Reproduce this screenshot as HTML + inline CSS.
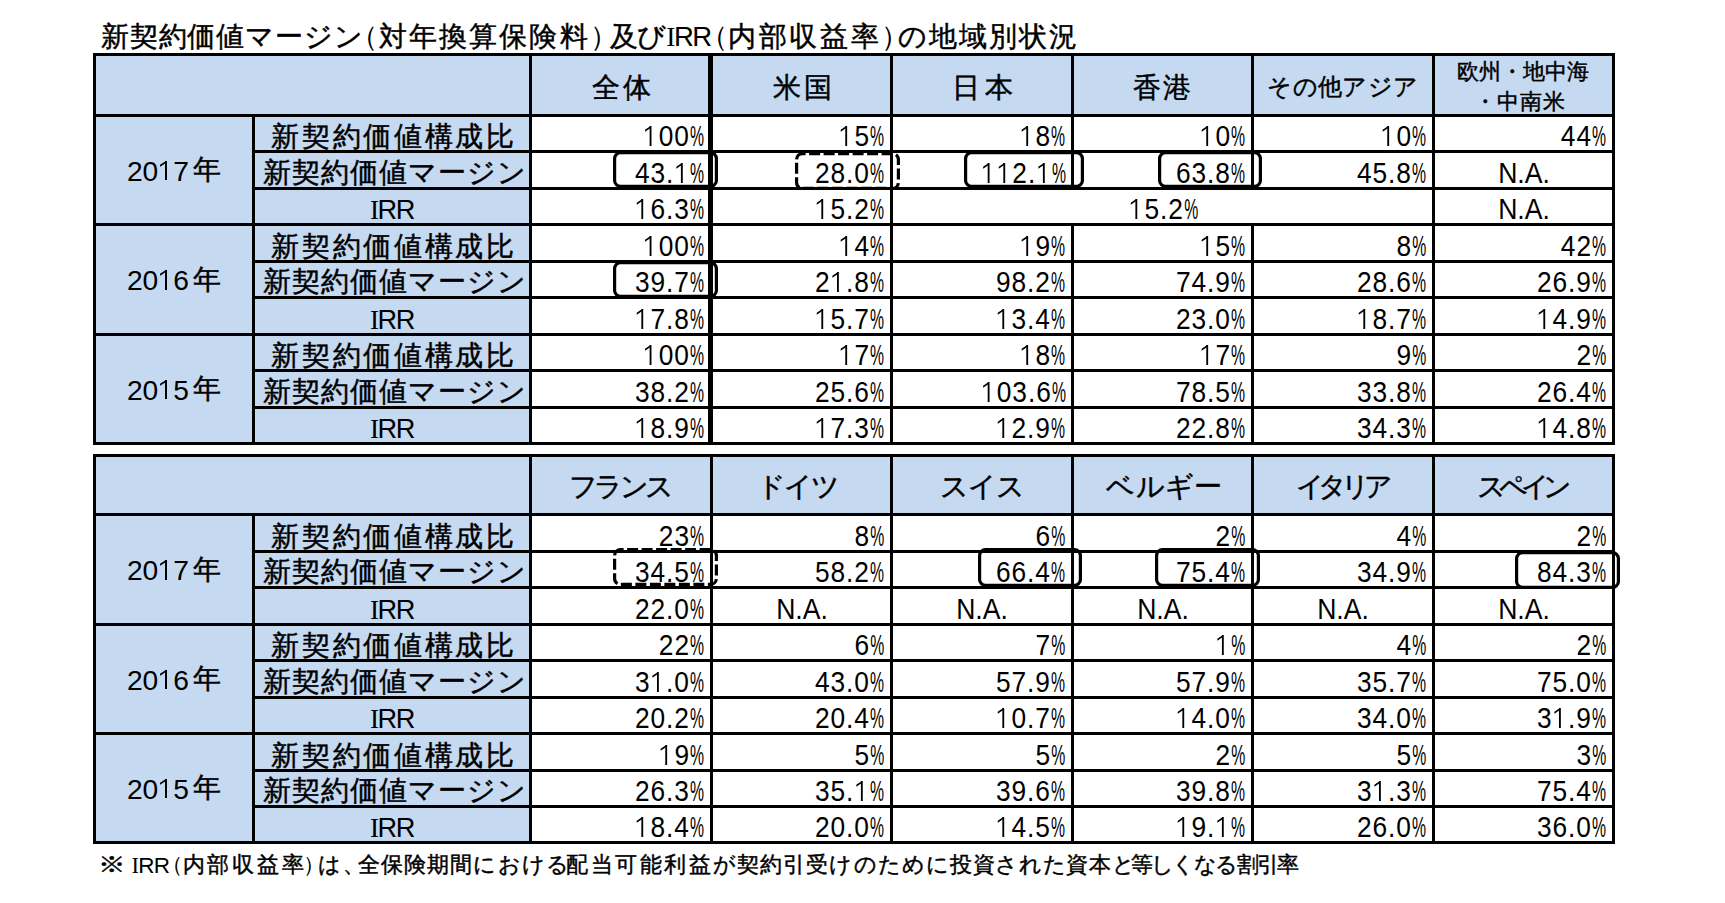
<!DOCTYPE html>
<html lang="ja"><head><meta charset="utf-8"><title>新契約価値マージン（対年換算保険料）及びIRR（内部収益率）の地域別状況</title>
<style>
html,body{margin:0;padding:0;background:#fff}
body{width:1725px;height:903px;position:relative;overflow:hidden;font-family:"Liberation Sans",sans-serif;color:#000}
.r,.rr,.n,.na,.g{position:absolute;line-height:0;white-space:nowrap}
.g{transform-origin:0 0}
.o{position:relative;color:transparent;font-style:normal}
.o::before{content:'';position:absolute;left:0.241em;top:0.222em;width:0.08em;height:0.683em;background:#000}
.o::after{content:'';position:absolute;left:0.07em;top:0.222em;width:0.214em;height:0.075em;background:#000;transform-origin:100% 0;transform:skewY(-32deg)}
.k,.yk{-webkit-text-stroke:0.45px #000}
.s{font-family:"Liberation Serif",serif}
.yk{font-size:0.99em;position:relative;top:-1.5px;margin-left:4px}
.n{font-size:28.6px;letter-spacing:1.0px;transform:scaleX(0.92);transform-origin:100% 0}
.n.c{width:600px;text-align:center;transform-origin:50% 0}
.p{display:inline-block;margin-right:-1.0px;width:0.533em;transform:scaleX(0.6);transform-origin:0 0}
.na{width:600px;text-align:center;font-size:28.6px;transform:scaleX(0.93)}
</style></head><body>
<div class="r" style="left:93px;top:53px;width:1522px;height:64px;background:#c5d9f1"></div>
<div class="r" style="left:93px;top:114px;width:439px;height:328px;background:#c5d9f1"></div>
<div class="n" style="right:1021.70px;top:136.09px"><i class="o">1</i>00<span class="p">%</span></div>
<div class="n" style="right:841.70px;top:136.09px"><i class="o">1</i>5<span class="p">%</span></div>
<div class="n" style="right:660.70px;top:136.09px"><i class="o">1</i>8<span class="p">%</span></div>
<div class="n" style="right:480.70px;top:136.09px"><i class="o">1</i>0<span class="p">%</span></div>
<div class="n" style="right:299.70px;top:136.09px"><i class="o">1</i>0<span class="p">%</span></div>
<div class="n" style="right:119.70px;top:136.09px">44<span class="p">%</span></div>
<div class="n" style="right:1021.70px;top:173.09px">43.<i class="o">1</i><span class="p">%</span></div>
<div class="n" style="right:841.70px;top:173.09px">28.0<span class="p">%</span></div>
<div class="n" style="right:660.70px;top:173.09px"><i class="o">1</i><i class="o">1</i>2.<i class="o">1</i><span class="p">%</span></div>
<div class="n" style="right:480.70px;top:173.09px">63.8<span class="p">%</span></div>
<div class="n" style="right:299.70px;top:173.09px">45.8<span class="p">%</span></div>
<div class="na" style="left:1223.50px;top:173.09px">N.A.</div>
<div class="n" style="right:1021.70px;top:209.09px"><i class="o">1</i>6.3<span class="p">%</span></div>
<div class="n" style="right:841.70px;top:209.09px"><i class="o">1</i>5.2<span class="p">%</span></div>
<div class="n c" style="left:862.50px;top:209.09px"><i class="o">1</i>5.2<span class="p">%</span></div>
<div class="na" style="left:1223.50px;top:209.09px">N.A.</div>
<div class="n" style="right:1021.70px;top:246.09px"><i class="o">1</i>00<span class="p">%</span></div>
<div class="n" style="right:841.70px;top:246.09px"><i class="o">1</i>4<span class="p">%</span></div>
<div class="n" style="right:660.70px;top:246.09px"><i class="o">1</i>9<span class="p">%</span></div>
<div class="n" style="right:480.70px;top:246.09px"><i class="o">1</i>5<span class="p">%</span></div>
<div class="n" style="right:299.70px;top:246.09px">8<span class="p">%</span></div>
<div class="n" style="right:119.70px;top:246.09px">42<span class="p">%</span></div>
<div class="n" style="right:1021.70px;top:282.09px">39.7<span class="p">%</span></div>
<div class="n" style="right:841.70px;top:282.09px">2<i class="o">1</i>.8<span class="p">%</span></div>
<div class="n" style="right:660.70px;top:282.09px">98.2<span class="p">%</span></div>
<div class="n" style="right:480.70px;top:282.09px">74.9<span class="p">%</span></div>
<div class="n" style="right:299.70px;top:282.09px">28.6<span class="p">%</span></div>
<div class="n" style="right:119.70px;top:282.09px">26.9<span class="p">%</span></div>
<div class="n" style="right:1021.70px;top:319.09px"><i class="o">1</i>7.8<span class="p">%</span></div>
<div class="n" style="right:841.70px;top:319.09px"><i class="o">1</i>5.7<span class="p">%</span></div>
<div class="n" style="right:660.70px;top:319.09px"><i class="o">1</i>3.4<span class="p">%</span></div>
<div class="n" style="right:480.70px;top:319.09px">23.0<span class="p">%</span></div>
<div class="n" style="right:299.70px;top:319.09px"><i class="o">1</i>8.7<span class="p">%</span></div>
<div class="n" style="right:119.70px;top:319.09px"><i class="o">1</i>4.9<span class="p">%</span></div>
<div class="n" style="right:1021.70px;top:355.09px"><i class="o">1</i>00<span class="p">%</span></div>
<div class="n" style="right:841.70px;top:355.09px"><i class="o">1</i>7<span class="p">%</span></div>
<div class="n" style="right:660.70px;top:355.09px"><i class="o">1</i>8<span class="p">%</span></div>
<div class="n" style="right:480.70px;top:355.09px"><i class="o">1</i>7<span class="p">%</span></div>
<div class="n" style="right:299.70px;top:355.09px">9<span class="p">%</span></div>
<div class="n" style="right:119.70px;top:355.09px">2<span class="p">%</span></div>
<div class="n" style="right:1021.70px;top:392.09px">38.2<span class="p">%</span></div>
<div class="n" style="right:841.70px;top:392.09px">25.6<span class="p">%</span></div>
<div class="n" style="right:660.70px;top:392.09px"><i class="o">1</i>03.6<span class="p">%</span></div>
<div class="n" style="right:480.70px;top:392.09px">78.5<span class="p">%</span></div>
<div class="n" style="right:299.70px;top:392.09px">33.8<span class="p">%</span></div>
<div class="n" style="right:119.70px;top:392.09px">26.4<span class="p">%</span></div>
<div class="n" style="right:1021.70px;top:428.09px"><i class="o">1</i>8.9<span class="p">%</span></div>
<div class="n" style="right:841.70px;top:428.09px"><i class="o">1</i>7.3<span class="p">%</span></div>
<div class="n" style="right:660.70px;top:428.09px"><i class="o">1</i>2.9<span class="p">%</span></div>
<div class="n" style="right:480.70px;top:428.09px">22.8<span class="p">%</span></div>
<div class="n" style="right:299.70px;top:428.09px">34.3<span class="p">%</span></div>
<div class="n" style="right:119.70px;top:428.09px"><i class="o">1</i>4.8<span class="p">%</span></div>
<div class="r" style="left:93px;top:53px;width:1522px;height:3px;background:#000"></div>
<div class="r" style="left:93px;top:114px;width:1522px;height:3px;background:#000"></div>
<div class="r" style="left:252px;top:150px;width:1363px;height:3px;background:#000"></div>
<div class="r" style="left:252px;top:187px;width:1363px;height:3px;background:#000"></div>
<div class="r" style="left:93px;top:223px;width:1522px;height:3px;background:#000"></div>
<div class="r" style="left:252px;top:260px;width:1363px;height:3px;background:#000"></div>
<div class="r" style="left:252px;top:296px;width:1363px;height:3px;background:#000"></div>
<div class="r" style="left:93px;top:333px;width:1522px;height:3px;background:#000"></div>
<div class="r" style="left:252px;top:369px;width:1363px;height:3px;background:#000"></div>
<div class="r" style="left:252px;top:406px;width:1363px;height:3px;background:#000"></div>
<div class="r" style="left:93px;top:442px;width:1522px;height:3px;background:#000"></div>
<div class="r" style="left:93px;top:53px;width:3px;height:392px;background:#000"></div>
<div class="r" style="left:252px;top:114px;width:3px;height:331px;background:#000"></div>
<div class="r" style="left:529px;top:53px;width:3px;height:392px;background:#000"></div>
<div class="r" style="left:710px;top:53px;width:3px;height:392px;background:#000"></div>
<div class="r" style="left:890px;top:53px;width:3px;height:392px;background:#000"></div>
<div class="r" style="left:1071px;top:53px;width:3px;height:134px;background:#000"></div>
<div class="r" style="left:1071px;top:223px;width:3px;height:222px;background:#000"></div>
<div class="r" style="left:1251px;top:53px;width:3px;height:134px;background:#000"></div>
<div class="r" style="left:1251px;top:223px;width:3px;height:222px;background:#000"></div>
<div class="r" style="left:1432px;top:53px;width:3px;height:392px;background:#000"></div>
<div class="r" style="left:1612px;top:53px;width:3px;height:392px;background:#000"></div>
<div class="r" style="left:708px;top:53px;width:2px;height:392px;background:#000"></div>
<div class="r" style="left:93px;top:454px;width:1522px;height:62px;background:#c5d9f1"></div>
<div class="r" style="left:93px;top:513px;width:439px;height:328px;background:#c5d9f1"></div>
<div class="n" style="right:1021.70px;top:536.09px">23<span class="p">%</span></div>
<div class="n" style="right:841.70px;top:536.09px">8<span class="p">%</span></div>
<div class="n" style="right:660.70px;top:536.09px">6<span class="p">%</span></div>
<div class="n" style="right:480.70px;top:536.09px">2<span class="p">%</span></div>
<div class="n" style="right:299.70px;top:536.09px">4<span class="p">%</span></div>
<div class="n" style="right:119.70px;top:536.09px">2<span class="p">%</span></div>
<div class="n" style="right:1021.70px;top:572.09px">34.5<span class="p">%</span></div>
<div class="n" style="right:841.70px;top:572.09px">58.2<span class="p">%</span></div>
<div class="n" style="right:660.70px;top:572.09px">66.4<span class="p">%</span></div>
<div class="n" style="right:480.70px;top:572.09px">75.4<span class="p">%</span></div>
<div class="n" style="right:299.70px;top:572.09px">34.9<span class="p">%</span></div>
<div class="n" style="right:119.70px;top:572.09px">84.3<span class="p">%</span></div>
<div class="n" style="right:1021.70px;top:609.09px">22.0<span class="p">%</span></div>
<div class="na" style="left:501.50px;top:609.09px">N.A.</div>
<div class="na" style="left:682.00px;top:609.09px">N.A.</div>
<div class="na" style="left:862.50px;top:609.09px">N.A.</div>
<div class="na" style="left:1043.00px;top:609.09px">N.A.</div>
<div class="na" style="left:1223.50px;top:609.09px">N.A.</div>
<div class="n" style="right:1021.70px;top:645.09px">22<span class="p">%</span></div>
<div class="n" style="right:841.70px;top:645.09px">6<span class="p">%</span></div>
<div class="n" style="right:660.70px;top:645.09px">7<span class="p">%</span></div>
<div class="n" style="right:480.70px;top:645.09px"><i class="o">1</i><span class="p">%</span></div>
<div class="n" style="right:299.70px;top:645.09px">4<span class="p">%</span></div>
<div class="n" style="right:119.70px;top:645.09px">2<span class="p">%</span></div>
<div class="n" style="right:1021.70px;top:682.09px">3<i class="o">1</i>.0<span class="p">%</span></div>
<div class="n" style="right:841.70px;top:682.09px">43.0<span class="p">%</span></div>
<div class="n" style="right:660.70px;top:682.09px">57.9<span class="p">%</span></div>
<div class="n" style="right:480.70px;top:682.09px">57.9<span class="p">%</span></div>
<div class="n" style="right:299.70px;top:682.09px">35.7<span class="p">%</span></div>
<div class="n" style="right:119.70px;top:682.09px">75.0<span class="p">%</span></div>
<div class="n" style="right:1021.70px;top:718.09px">20.2<span class="p">%</span></div>
<div class="n" style="right:841.70px;top:718.09px">20.4<span class="p">%</span></div>
<div class="n" style="right:660.70px;top:718.09px"><i class="o">1</i>0.7<span class="p">%</span></div>
<div class="n" style="right:480.70px;top:718.09px"><i class="o">1</i>4.0<span class="p">%</span></div>
<div class="n" style="right:299.70px;top:718.09px">34.0<span class="p">%</span></div>
<div class="n" style="right:119.70px;top:718.09px">3<i class="o">1</i>.9<span class="p">%</span></div>
<div class="n" style="right:1021.70px;top:755.09px"><i class="o">1</i>9<span class="p">%</span></div>
<div class="n" style="right:841.70px;top:755.09px">5<span class="p">%</span></div>
<div class="n" style="right:660.70px;top:755.09px">5<span class="p">%</span></div>
<div class="n" style="right:480.70px;top:755.09px">2<span class="p">%</span></div>
<div class="n" style="right:299.70px;top:755.09px">5<span class="p">%</span></div>
<div class="n" style="right:119.70px;top:755.09px">3<span class="p">%</span></div>
<div class="n" style="right:1021.70px;top:791.09px">26.3<span class="p">%</span></div>
<div class="n" style="right:841.70px;top:791.09px">35.<i class="o">1</i><span class="p">%</span></div>
<div class="n" style="right:660.70px;top:791.09px">39.6<span class="p">%</span></div>
<div class="n" style="right:480.70px;top:791.09px">39.8<span class="p">%</span></div>
<div class="n" style="right:299.70px;top:791.09px">3<i class="o">1</i>.3<span class="p">%</span></div>
<div class="n" style="right:119.70px;top:791.09px">75.4<span class="p">%</span></div>
<div class="n" style="right:1021.70px;top:827.09px"><i class="o">1</i>8.4<span class="p">%</span></div>
<div class="n" style="right:841.70px;top:827.09px">20.0<span class="p">%</span></div>
<div class="n" style="right:660.70px;top:827.09px"><i class="o">1</i>4.5<span class="p">%</span></div>
<div class="n" style="right:480.70px;top:827.09px"><i class="o">1</i>9.<i class="o">1</i><span class="p">%</span></div>
<div class="n" style="right:299.70px;top:827.09px">26.0<span class="p">%</span></div>
<div class="n" style="right:119.70px;top:827.09px">36.0<span class="p">%</span></div>
<div class="r" style="left:93px;top:454px;width:1522px;height:3px;background:#000"></div>
<div class="r" style="left:93px;top:513px;width:1522px;height:3px;background:#000"></div>
<div class="r" style="left:252px;top:550px;width:1363px;height:3px;background:#000"></div>
<div class="r" style="left:252px;top:586px;width:1363px;height:3px;background:#000"></div>
<div class="r" style="left:93px;top:623px;width:1522px;height:3px;background:#000"></div>
<div class="r" style="left:252px;top:659px;width:1363px;height:3px;background:#000"></div>
<div class="r" style="left:252px;top:696px;width:1363px;height:3px;background:#000"></div>
<div class="r" style="left:93px;top:732px;width:1522px;height:3px;background:#000"></div>
<div class="r" style="left:252px;top:769px;width:1363px;height:3px;background:#000"></div>
<div class="r" style="left:252px;top:805px;width:1363px;height:3px;background:#000"></div>
<div class="r" style="left:93px;top:841px;width:1522px;height:3px;background:#000"></div>
<div class="r" style="left:93px;top:454px;width:3px;height:390px;background:#000"></div>
<div class="r" style="left:252px;top:513px;width:3px;height:331px;background:#000"></div>
<div class="r" style="left:529px;top:454px;width:3px;height:390px;background:#000"></div>
<div class="r" style="left:710px;top:454px;width:3px;height:390px;background:#000"></div>
<div class="r" style="left:890px;top:454px;width:3px;height:390px;background:#000"></div>
<div class="r" style="left:1071px;top:454px;width:3px;height:390px;background:#000"></div>
<div class="r" style="left:1251px;top:454px;width:3px;height:390px;background:#000"></div>
<div class="r" style="left:1432px;top:454px;width:3px;height:390px;background:#000"></div>
<div class="r" style="left:1612px;top:454px;width:3px;height:390px;background:#000"></div>
<div class="g k" style="left:100.90px;top:36.72px;font-size:27.6px;letter-spacing:0.84px">新契約価値マージン</div>
<div class="g" style="left:349.85px;top:36.72px;font-size:27.6px;transform:scaleX(1.000)">（</div>
<div class="g k" style="left:379.40px;top:36.72px;font-size:27.6px;letter-spacing:2.02px">対年換算保険料</div>
<div class="g" style="left:589.70px;top:36.72px;font-size:27.6px;transform:scaleX(1.000)">）</div>
<div class="g k" style="left:609.70px;top:36.72px;font-size:27.6px;letter-spacing:-0.80px">及び</div>
<div class="g" style="left:666.20px;top:36.97px;font-size:27.5px;letter-spacing:-1.45px"><span class="s">I</span>RR</div>
<div class="g" style="left:700.00px;top:36.72px;font-size:27.6px;transform:scaleX(1.000)">（</div>
<div class="g k" style="left:728.30px;top:36.72px;font-size:27.6px;letter-spacing:2.60px">内部収益率</div>
<div class="g" style="left:880.85px;top:36.72px;font-size:27.6px;transform:scaleX(1.000)">）</div>
<div class="g k" style="left:898.00px;top:36.72px;font-size:27.6px;letter-spacing:2.00px">の地域別状況</div>
<div class="g k" style="left:592.00px;top:87.25px;font-size:28.4px;letter-spacing:3.00px">全体</div>
<div class="g k" style="left:773.00px;top:87.25px;font-size:28.4px;letter-spacing:2.60px">米国</div>
<div class="g k" style="left:952.40px;top:87.25px;font-size:28.4px;letter-spacing:4.30px">日本</div>
<div class="g k" style="left:1133.00px;top:87.25px;font-size:28.4px;letter-spacing:2.40px">香港</div>
<div class="g k" style="left:1267.40px;top:86.62px;font-size:24.4px;letter-spacing:0.36px">その他アジア</div>
<div class="g k" style="left:1457.00px;top:72.38px;font-size:21.9px;letter-spacing:0.06px">欧州・地中海</div>
<div class="g k" style="left:1474.40px;top:102.38px;font-size:21.9px;letter-spacing:0.93px">・中南米</div>
<div class="g k" style="left:568.80px;top:486.25px;font-size:28.4px;letter-spacing:-3.50px">フランス</div>
<div class="g k" style="left:756.50px;top:486.25px;font-size:28.4px;letter-spacing:-1.90px">ドイツ</div>
<div class="g k" style="left:940.00px;top:486.25px;font-size:28.4px;letter-spacing:-1.20px">スイス</div>
<div class="g k" style="left:1106.40px;top:486.25px;font-size:28.4px;letter-spacing:0.33px">ベルギー</div>
<div class="g k" style="left:1295.60px;top:486.25px;font-size:28.4px;letter-spacing:-6.13px">イタリア</div>
<div class="g k" style="left:1476.80px;top:486.25px;font-size:28.4px;letter-spacing:-7.00px">スペイン</div>
<div class="g k" style="left:271.40px;top:136.64px;font-size:28.0px;letter-spacing:2.66px">新契約価値構成比</div>
<div class="g k" style="left:263.00px;top:172.64px;font-size:28.0px;letter-spacing:1.00px">新契約価値マージン</div>
<div class="g" style="left:370.00px;top:209.58px;font-size:27.2px;letter-spacing:-1.50px"><span class="s">I</span>RR</div>
<div class="g k" style="left:271.40px;top:246.64px;font-size:28.0px;letter-spacing:2.66px">新契約価値構成比</div>
<div class="g k" style="left:263.00px;top:281.64px;font-size:28.0px;letter-spacing:1.00px">新契約価値マージン</div>
<div class="g" style="left:370.00px;top:319.58px;font-size:27.2px;letter-spacing:-1.50px"><span class="s">I</span>RR</div>
<div class="g k" style="left:271.40px;top:355.64px;font-size:28.0px;letter-spacing:2.66px">新契約価値構成比</div>
<div class="g k" style="left:263.00px;top:391.64px;font-size:28.0px;letter-spacing:1.00px">新契約価値マージン</div>
<div class="g" style="left:370.00px;top:428.58px;font-size:27.2px;letter-spacing:-1.50px"><span class="s">I</span>RR</div>
<div class="g" style="left:127.00px;top:170.63px;font-size:28.2px;letter-spacing:-0.25px">20<i class="o">1</i>7<span class="yk">年</span></div>
<div class="g" style="left:127.00px;top:280.13px;font-size:28.2px;letter-spacing:-0.25px">20<i class="o">1</i>6<span class="yk">年</span></div>
<div class="g" style="left:127.00px;top:389.63px;font-size:28.2px;letter-spacing:-0.25px">20<i class="o">1</i>5<span class="yk">年</span></div>
<div class="g k" style="left:271.40px;top:536.64px;font-size:28.0px;letter-spacing:2.66px">新契約価値構成比</div>
<div class="g k" style="left:263.00px;top:571.64px;font-size:28.0px;letter-spacing:1.00px">新契約価値マージン</div>
<div class="g" style="left:370.00px;top:609.58px;font-size:27.2px;letter-spacing:-1.50px"><span class="s">I</span>RR</div>
<div class="g k" style="left:271.40px;top:645.64px;font-size:28.0px;letter-spacing:2.66px">新契約価値構成比</div>
<div class="g k" style="left:263.00px;top:681.64px;font-size:28.0px;letter-spacing:1.00px">新契約価値マージン</div>
<div class="g" style="left:370.00px;top:718.58px;font-size:27.2px;letter-spacing:-1.50px"><span class="s">I</span>RR</div>
<div class="g k" style="left:271.40px;top:755.64px;font-size:28.0px;letter-spacing:2.66px">新契約価値構成比</div>
<div class="g k" style="left:263.00px;top:790.64px;font-size:28.0px;letter-spacing:1.00px">新契約価値マージン</div>
<div class="g" style="left:370.00px;top:827.58px;font-size:27.2px;letter-spacing:-1.50px"><span class="s">I</span>RR</div>
<div class="g" style="left:127.00px;top:570.13px;font-size:28.2px;letter-spacing:-0.25px">20<i class="o">1</i>7<span class="yk">年</span></div>
<div class="g" style="left:127.00px;top:679.63px;font-size:28.2px;letter-spacing:-0.25px">20<i class="o">1</i>6<span class="yk">年</span></div>
<div class="g" style="left:127.00px;top:788.63px;font-size:28.2px;letter-spacing:-0.25px">20<i class="o">1</i>5<span class="yk">年</span></div>
<div class="g k" style="left:98.25px;top:865.09px;font-size:22.1px;transform:scaleX(1.250)">※</div>
<div class="g" style="left:131.40px;top:866.20px;font-size:22.5px;letter-spacing:-0.75px"><span class="s">I</span>RR</div>
<div class="g" style="left:161.10px;top:865.09px;font-size:22.1px;transform:scaleX(1.000)">（</div>
<div class="g k" style="left:182.60px;top:865.09px;font-size:22.1px;letter-spacing:2.80px">内部収益率</div>
<div class="g" style="left:302.90px;top:865.09px;font-size:22.1px;transform:scaleX(1.000)">）</div>
<div class="g k" style="left:317.50px;top:865.09px;font-size:22.1px;letter-spacing:2.50px">は、</div>
<div class="g k" style="left:357.50px;top:865.09px;font-size:22.1px;letter-spacing:1.17px">全保険期間における</div>
<div class="g k" style="left:566.20px;top:865.09px;font-size:22.1px;letter-spacing:2.55px">配当可能利益が</div>
<div class="g k" style="left:736.60px;top:865.09px;font-size:22.1px;letter-spacing:1.22px">契約引受けのために</div>
<div class="g k" style="left:949.90px;top:865.09px;font-size:22.1px;letter-spacing:0.66px">投資された資本と</div>
<div class="g k" style="left:1130.60px;top:865.09px;font-size:22.1px;letter-spacing:-1.59px">等しくなる割引率</div>
<svg class="rr" style="left:613px;top:151px" width="105" height="37" viewBox="0 0 105 37"><rect x="1.6" y="1.6" width="101.8" height="33.8" rx="6" ry="6" fill="none" stroke="#000" stroke-width="3.2" /></svg>
<svg class="rr" style="left:795px;top:152px" width="105" height="38" viewBox="0 0 105 38"><rect x="1.6" y="1.6" width="101.8" height="34.8" rx="6" ry="6" fill="none" stroke="#000" stroke-width="3.2" stroke-dasharray="11 3.5" stroke-dashoffset="8"/></svg>
<svg class="rr" style="left:964px;top:151px" width="120" height="37" viewBox="0 0 120 37"><rect x="1.6" y="1.6" width="116.8" height="33.8" rx="6" ry="6" fill="none" stroke="#000" stroke-width="3.2" /></svg>
<svg class="rr" style="left:1158px;top:151px" width="104" height="37" viewBox="0 0 104 37"><rect x="1.6" y="1.6" width="100.8" height="33.8" rx="6" ry="6" fill="none" stroke="#000" stroke-width="3.2" /></svg>
<svg class="rr" style="left:613px;top:261px" width="105" height="37" viewBox="0 0 105 37"><rect x="1.6" y="1.6" width="101.8" height="33.8" rx="6" ry="6" fill="none" stroke="#000" stroke-width="3.2" /></svg>
<svg class="rr" style="left:613px;top:548px" width="105" height="38" viewBox="0 0 105 38"><rect x="1.6" y="1.6" width="101.8" height="34.8" rx="6" ry="6" fill="none" stroke="#000" stroke-width="3.2" stroke-dasharray="11 3.5" stroke-dashoffset="8"/></svg>
<svg class="rr" style="left:978px;top:548px" width="104" height="39" viewBox="0 0 104 39"><rect x="1.6" y="1.6" width="100.8" height="35.8" rx="6" ry="6" fill="none" stroke="#000" stroke-width="3.2" /></svg>
<svg class="rr" style="left:1155px;top:548px" width="105" height="39" viewBox="0 0 105 39"><rect x="1.6" y="1.6" width="101.8" height="35.8" rx="6" ry="6" fill="none" stroke="#000" stroke-width="3.2" /></svg>
<svg class="rr" style="left:1515px;top:551px" width="105" height="38" viewBox="0 0 105 38"><rect x="1.6" y="1.6" width="101.8" height="34.8" rx="6" ry="6" fill="none" stroke="#000" stroke-width="3.2" /></svg>
</body></html>
